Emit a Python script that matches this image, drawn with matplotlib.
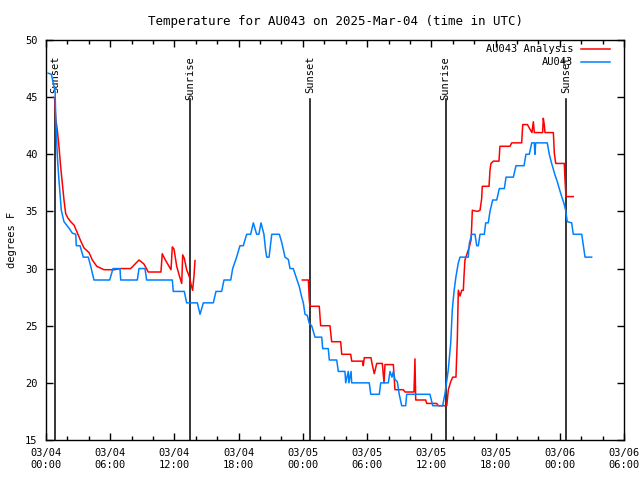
import datetime as dt

import matplotlib
matplotlib.use("Agg")
import matplotlib.pyplot as plt
import matplotlib.dates as mdates
import matplotlib.transforms as mtransforms

BASE = dt.datetime(2025, 3, 4, 0, 0)

# hours since 03/04 00:00 UTC, temperature in F
obs_hours = [0.19, 0.50, 0.85, 0.91, 1.06, 1.19, 1.31, 1.43, 1.68, 2.18, 2.46, 2.78, 2.83,
             3.18, 3.48, 3.95, 4.18, 4.48, 5.95, 6.26, 6.91, 6.98, 8.53, 8.69, 9.25, 9.40,
             11.80, 11.89, 12.92, 13.14, 14.14, 14.39, 14.70, 15.63, 15.88, 16.41, 16.63,
             17.26, 17.44, 17.81, 18.12, 18.43, 18.75, 19.12, 19.37, 19.68, 19.89, 20.09,
             20.36, 20.53, 20.62, 20.84, 21.09, 21.80, 22.02, 22.33, 22.64, 22.80, 23.10,
             23.42, 23.67, 23.89, 24.04, 24.20, 24.41, 24.60, 24.82, 25.13, 25.76, 25.85,
             26.37, 26.47, 27.16, 27.31, 27.93, 28.00, 28.24, 28.30, 28.50, 28.56, 30.20,
             30.34, 31.14, 31.27, 31.98, 32.14, 32.32, 32.45, 32.60, 32.82, 33.00, 33.23,
             33.60, 33.70, 35.87, 36.13, 37.06, 37.28, 37.58, 37.81, 37.96, 38.12, 38.30,
             38.52, 38.68, 39.45, 39.55, 39.77, 40.08, 40.24, 40.39, 40.55, 40.95, 41.08,
             41.32, 41.48, 41.73, 42.11, 42.35, 42.82, 42.98, 43.66, 43.91, 44.66, 44.84,
             45.15, 45.38, 45.62, 45.68, 45.75, 46.83, 47.02, 47.24, 47.55, 47.77, 47.95,
             48.18, 48.39, 48.55, 48.70, 49.11, 49.26, 50.05, 50.20, 50.36, 50.98]
obs_temps = [47.1, 47.0, 45.5, 43.2, 39.8, 38.0, 36.6, 35.1, 34.1, 33.5, 33.1, 33.0, 32.0,
             32.0, 31.0, 31.0, 30.2, 29.0, 29.0, 30.0, 30.0, 29.0, 29.0, 30.0, 30.0, 29.0,
             29.0, 28.0, 28.0, 27.0, 27.0, 26.0, 27.0, 27.0, 28.0, 28.0, 29.0,
             29.0, 30.0, 31.0, 32.0, 32.0, 33.0, 33.0, 34.0, 33.0, 33.0, 34.0,
             33.0, 31.5, 31.0, 31.0, 33.0, 33.0, 32.3, 31.0, 30.8, 30.0, 30.0,
             29.1, 28.4, 27.5, 27.0, 26.0, 25.9, 25.2, 25.0, 24.0, 24.0, 23.0,
             23.0, 22.0, 22.0, 21.0, 21.0, 20.0, 21.0, 20.0, 21.0, 20.0, 20.0,
             19.0, 19.0, 20.0, 20.0, 21.0, 20.5, 21.0, 20.3, 20.1, 19.0, 18.0,
             18.0, 19.0, 19.0, 18.0, 18.0, 19.1, 21.1, 23.5, 26.4, 28.0, 29.3,
             30.5, 31.0, 31.0, 32.2, 33.0, 33.0, 32.0, 32.0, 33.0, 33.0, 34.0,
             34.0, 35.0, 36.0, 36.0, 37.0, 37.0, 38.0, 38.0, 39.0, 39.0, 40.0,
             40.0, 41.0, 41.0, 40.0, 41.0, 41.0, 40.0, 39.2, 38.2, 37.6, 37.0,
             36.3, 35.7, 35.1, 34.1, 34.0, 33.0, 33.0, 32.0, 31.0, 31.0]

ana1_hours = [0.70, 0.80, 0.91, 1.06, 1.21, 1.37, 1.52, 1.68, 1.84, 2.06, 2.31, 2.62, 2.94,
              3.25, 3.55, 4.02, 4.33, 4.74, 5.42, 6.36, 6.98, 7.91, 8.69, 9.15, 9.55, 10.74,
              10.86, 11.12, 11.43, 11.68, 11.80, 11.96, 12.21, 12.45, 12.68, 12.77, 12.92,
              13.14, 13.39, 13.55, 13.70, 13.83, 13.92]
ana1_temps = [45.0, 44.9, 43.1, 42.1, 40.7, 38.9, 37.5, 36.0, 34.8, 34.4, 34.1, 33.8, 33.1,
              32.4, 31.8, 31.4, 30.75, 30.2, 29.9, 29.9, 30.0, 30.0, 30.75, 30.4, 29.7, 29.7,
              31.3, 30.8, 30.3, 29.9, 31.9, 31.7, 30.2, 29.4, 28.7, 31.2, 30.9,
              29.9, 29.3, 28.6, 28.1, 29.4, 30.7]

ana2_hours = [23.95, 24.51, 24.60, 24.66, 25.53, 25.66, 26.53, 26.69, 27.53, 27.63, 28.47,
              28.56, 29.59, 29.64, 29.74, 30.36, 30.48, 30.67, 30.90, 31.42, 31.58, 31.67,
              32.45, 32.60, 33.38, 33.54, 34.38, 34.47, 34.54, 35.47, 35.57, 36.50, 36.65,
              37.44, 37.59, 37.81, 38.00, 38.30, 38.43, 38.52, 38.68, 38.84, 38.99, 39.05,
              39.14, 39.30, 39.55, 39.71, 39.77, 39.83, 40.29, 40.55, 40.70, 40.76, 41.39,
              41.48, 41.57, 41.79, 42.32, 42.41, 43.35, 43.51, 44.44, 44.54, 44.98, 45.21,
              45.40, 45.53, 45.62, 46.40, 46.46, 46.55, 46.62, 47.40, 47.49, 47.62, 48.42,
              48.49, 48.58, 49.26]
ana2_temps = [29.0, 29.0, 27.25, 26.7, 26.7, 25.0, 25.0, 23.6, 23.6, 22.5, 22.5,
              21.9, 21.9, 21.5, 22.2, 22.2, 21.6, 20.8, 21.7, 21.7, 20.0, 21.6,
              21.6, 19.4, 19.4, 19.2, 19.2, 22.1, 18.5, 18.5, 18.2, 18.2, 18.0,
              18.0, 19.4, 20.1, 20.5, 20.5, 23.9, 28.1, 27.6, 28.1, 28.1, 29.3,
              30.75, 31.2, 31.9, 32.5, 33.7, 35.1, 35.0, 35.1, 36.1, 37.2, 37.2,
              38.6, 39.2, 39.4, 39.4, 40.7, 40.7, 41.0, 41.0, 42.6, 42.6, 42.2,
              41.9, 42.85, 41.9, 41.9, 43.15, 42.6, 41.9, 41.9, 40.1, 39.2, 39.2,
              37.75, 36.3, 36.3]

sun_hours = [0.86, 13.46, 24.68, 37.34, 48.61]
sun_labels = ["Sunset", "Sunrise", "Sunset", "Sunrise", "Sunset"]


def to_times(hours):
    return [BASE + dt.timedelta(hours=h) for h in hours]


plt.rcParams["font.family"] = "DejaVu Sans Mono"
plt.rcParams["font.size"] = 7.5

fig = plt.figure(figsize=(6.4, 4.8), dpi=100)
ax = fig.add_axes([46 / 640, 40 / 480, 578 / 640, 400 / 480])

trans = mtransforms.blended_transform_factory(ax.transData, ax.transAxes)
for h, lab in zip(sun_hours, sun_labels):
    t = mdates.date2num(BASE + dt.timedelta(hours=h))
    ax.plot([t, t], [0, 0.8525], color="black", lw=1.1, transform=trans, zorder=1)
    ax.text(t, 0.96, lab, rotation=90, ha="center", va="top", transform=trans, zorder=1)

red = "#ff0000"
blue = "#0080ff"
ax.plot(to_times(ana1_hours), ana1_temps, color=red, lw=1.1, label="AU043 Analysis", zorder=2)
ax.plot(to_times(ana2_hours), ana2_temps, color=red, lw=1.1, zorder=2)
ax.plot(to_times(obs_hours), obs_temps, color=blue, lw=1.1, label="AU043", zorder=3)

ax.set_xlim(BASE, BASE + dt.timedelta(hours=54))
ax.set_ylim(15, 50)
ax.set_yticks(range(15, 51, 5))
ax.xaxis.set_major_locator(mdates.HourLocator(byhour=[0, 6, 12, 18]))
ax.xaxis.set_minor_locator(mdates.HourLocator(interval=2))
ax.xaxis.set_major_formatter(mdates.DateFormatter("%m/%d\n%H:%M"))
ax.tick_params(which="both", direction="in", top=True, right=True, width=1)
ax.tick_params(which="major", length=5, pad=6)
ax.tick_params(which="minor", length=3)
for sp in ax.spines.values():
    sp.set_linewidth(1)

ax.set_ylabel("degrees F", labelpad=6)
ax.set_title("Temperature for AU043 on 2025-Mar-04 (time in UTC)", pad=11)

ax.legend(loc="upper right", bbox_to_anchor=(0.983, 1.0), borderaxespad=0,
          frameon=False, markerfirst=False, handlelength=2.8,
          labelspacing=0.3, handletextpad=0.7)

fig.savefig("out.png", dpi=100)
